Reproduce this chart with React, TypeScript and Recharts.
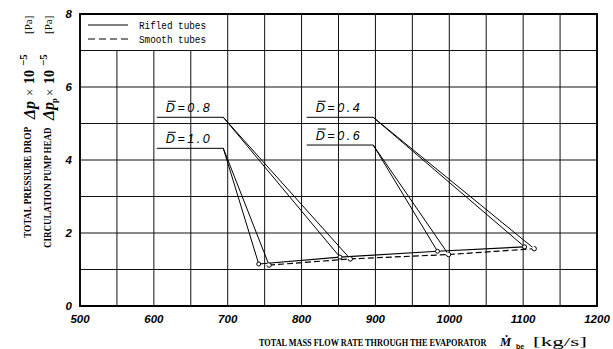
import React from "react";
import { LineChart, Line, XAxis, YAxis, CartesianGrid, ReferenceArea } from "recharts";

// axis ticks (grid every 50 kg/s and every 1 Pa·1e5, labels on every other one)
const xTicks = [500, 550, 600, 650, 700, 750, 800, 850, 900, 950, 1000, 1050, 1100, 1150, 1200];
const yTicks = [0, 1, 2, 3, 4, 5, 6, 7, 8];

// operating points, one per D value (D = 1.0, 0.8, 0.6, 0.4)
const flowRifled = [742, 852, 984, 1102];
const dpRifled = [1.15, 1.34, 1.5, 1.62];
const flowSmooth = [756, 866, 999, 1115];
const dpSmooth = [1.12, 1.29, 1.41, 1.57];

// pump head curves start at the label leaders
const dLabels = ["1.0", "0.8", "0.6", "0.4"];
const leaderY = [4.32, 5.17, 4.41, 5.17];
const leaderStart = [604, 604, 807, 807];
const leaderCorner = [694, 694, 897, 897];

const rifledData = flowRifled.map((x, i) => ({ x, y: dpRifled[i] }));
const smoothData = flowSmooth.map((x, i) => ({ x, y: dpSmooth[i] }));

const serif = "'Liberation Serif', 'Times New Roman', serif";
const sans = "'Liberation Sans', Arial, sans-serif";
const mono = "'Liberation Mono', 'Courier New', monospace";

const makeDLabel = (text: string) => (props: any) => {
  const { x, y, index } = props;
  if (index !== 0) return <g />;
  return (
    <g>
      <text
        x={x + 9}
        y={y - 5.5}
        fontFamily={sans}
        fontStyle="italic"
        fontSize={12.5}
        fill="#000"
        textLength={44}
        lengthAdjust="spacing"
      >
        {"D=" + text}
      </text>
      <line x1={x + 11} x2={x + 19} y1={y - 16} y2={y - 16} stroke="#000" strokeWidth={1} />
    </g>
  );
};

const xTickFmt = (v: number) => (v % 100 === 0 ? String(v) : "");
const yTickFmt = (v: number) => (v % 2 === 0 ? String(v) : "");

const tickStyle = { fontFamily: sans, fontStyle: "italic", fontWeight: 700, fontSize: 11.5, fill: "#000" };

const VText = ({ x, y, size, family, weight, italic, sx, children }: any) => (
  <text
    transform={`translate(${x},${y}) rotate(-90)${sx ? ` scale(${sx},1)` : ""}`}
    fontFamily={family}
    fontSize={size}
    fontWeight={weight}
    fontStyle={italic ? "italic" : "normal"}
    fill="#000"
  >
    {children}
  </text>
);

const Titles = () => (
  <svg width={613} height={349} style={{ position: "absolute", left: 0, top: 0, pointerEvents: "none" }}>
    {/* y title, line 1 */}
    <VText x={31} y={238} size={10.5} family={serif} weight={700} sx={0.89}>TOTAL PRESSURE DROP</VText>
    <VText x={35} y={119} size={16} family={serif} weight={700} italic>Δp</VText>
    <VText x={34} y={96} size={13} family={serif}>×</VText>
    <VText x={34} y={84} size={14} family={serif} weight={700}>10</VText>
    <VText x={27} y={66} size={11} family={serif} weight={700}>−5</VText>
    <VText x={32} y={34} size={11} family={serif}>[Pa]</VText>
    {/* y title, line 2 */}
    <VText x={51} y={248} size={10.5} family={serif} weight={700} sx={0.86}>CIRCULATION PUMP HEAD</VText>
    <VText x={54} y={120} size={16} family={serif} weight={700} italic>Δp</VText>
    <VText x={57} y={103} size={8.5} family={serif} weight={700}>p</VText>
    <VText x={54} y={96} size={13} family={serif}>×</VText>
    <VText x={54} y={84} size={14} family={serif} weight={700}>10</VText>
    <VText x={47} y={66} size={11} family={serif} weight={700}>−5</VText>
    <VText x={52} y={34} size={11} family={serif}>[Pa]</VText>
    {/* x title */}
    <text
      transform="translate(259,345.5) scale(0.827,1)"
      fontFamily={serif}
      fontWeight={700}
      fontSize={10}
      fill="#000"
    >
      TOTAL MASS FLOW RATE THROUGH THE EVAPORATOR
    </text>
    <text x={500} y={346} fontFamily={serif} fontWeight={700} fontStyle="italic" fontSize={12.5}>Ṁ</text>
    <text x={516} y={348.5} fontFamily={sans} fontWeight={700} fontSize={7}>be</text>
    <text x={533} y={345.5} fontFamily={serif} fontSize={13} textLength={54} lengthAdjust="spacingAndGlyphs">[kg/s]</text>
  </svg>
);

const LegendBox = () => (
  <div style={{ position: "absolute", left: 81, top: 15, width: 146, height: 35, background: "#fff" }}>
    <svg width={146} height={35}>
      <line x1={7} x2={47} y1={10} y2={10} stroke="#000" strokeWidth={1} />
      <text x={58} y={13.5} fontFamily={mono} fontSize={11} textLength={67} lengthAdjust="spacingAndGlyphs">
        Rifled tubes
      </text>
      <line x1={7} x2={47} y1={24} y2={24} stroke="#000" strokeWidth={1} strokeDasharray="7 4" />
      <text x={58} y={27.5} fontFamily={mono} fontSize={11} textLength={67} lengthAdjust="spacingAndGlyphs">
        Smooth tubes
      </text>
    </svg>
  </div>
);

export default function App() {
  return (
    <div style={{ position: "absolute", left: 0, top: 0, width: 613, height: 349, background: "#fff" }}>
      <LineChart width={613} height={349} margin={{ top: 14, right: 16, bottom: 0, left: 0 }}>
        <CartesianGrid stroke="#111" strokeWidth={1} />
        <XAxis
          type="number"
          dataKey="x"
          domain={[500, 1200]}
          ticks={xTicks}
          tickFormatter={xTickFmt}
          tick={tickStyle}
          tickLine={false}
          axisLine={false}
          tickSize={0}
          tickMargin={9}
          height={43}
          interval={0}
        />
        <YAxis
          type="number"
          dataKey="y"
          domain={[0, 8]}
          ticks={yTicks}
          tickFormatter={yTickFmt}
          tick={tickStyle}
          tickLine={false}
          axisLine={false}
          tickSize={0}
          tickMargin={8}
          width={80}
          interval={0}
        />
        <ReferenceArea x1={500} x2={1200} y1={0} y2={8} fill="none" stroke="#000" strokeWidth={1.8} />
        {dLabels.map((lab, i) => (
          <Line
            key={"lead-a-" + lab}
            data={[
              { x: leaderStart[i], y: leaderY[i] },
              { x: leaderCorner[i], y: leaderY[i] },
              { x: flowRifled[i], y: dpRifled[i] },
            ]}
            dataKey="y"
            type="linear"
            stroke="#000"
            strokeWidth={1}
            dot={false}
            label={makeDLabel(lab)}
            isAnimationActive={false}
          />
        ))}
        {dLabels.map((lab, i) => (
          <Line
            key={"lead-b-" + lab}
            data={[
              { x: leaderCorner[i], y: leaderY[i] },
              { x: flowSmooth[i], y: dpSmooth[i] },
            ]}
            dataKey="y"
            type="linear"
            stroke="#000"
            strokeWidth={1}
            dot={false}
            isAnimationActive={false}
          />
        ))}
        <Line
          data={rifledData}
          dataKey="y"
          type="linear"
          stroke="#000"
          strokeWidth={1.2}
          dot={{ r: 2, fill: "#fff", stroke: "#000", strokeWidth: 1 }}
          isAnimationActive={false}
        />
        <Line
          data={smoothData}
          dataKey="y"
          type="linear"
          stroke="#000"
          strokeWidth={1.2}
          strokeDasharray="6 3"
          dot={{ r: 2.2, fill: "#fff", stroke: "#000", strokeWidth: 1 }}
          isAnimationActive={false}
        />
      </LineChart>
      <LegendBox />
      <Titles />
    </div>
  );
}
